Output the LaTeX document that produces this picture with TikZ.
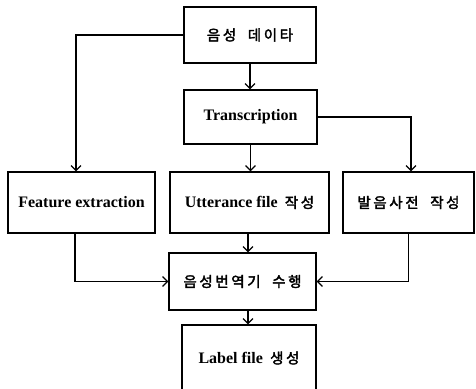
\documentclass[tikz,border=0pt]{standalone}
\usepackage{fontspec}
\setmainfont{Liberation Serif}
\newfontfamily\kr[LetterSpace=18,FakeBold=2.5]{Noto Sans CJK KR}
\usetikzlibrary{arrows.meta}
\newcommand{\ksp}{\hspace{0.8em}}
\newcommand{\lsp}{\hspace{0.45em}}
\newcommand{\kt}[1]{{\kr\mdseries\fontsize{14.5}{17}\selectfont #1}}
\tikzset{
  box/.style={draw, line width=1.2pt, inner sep=0pt, anchor=center},
  lat/.style={font=\fontsize{16}{19}\selectfont\bfseries},
  arr/.style={line width=1.2pt, -{Straight Barb[length=5pt,width=10pt,line width=1.2pt]}},
}
\begin{document}
\begin{tikzpicture}[x=1pt,y=-1pt]
\useasboundingbox (0,0) rectangle (476,388);
\node[box, minimum width=132pt, minimum height=56pt] (A) at (250,35) {\kt{음성\ksp 데이타}};
\node[box, lat, minimum width=133pt, minimum height=54pt] (T) at (250.5,117) {Transcription};
\node[box, lat, minimum width=147pt, minimum height=61pt] (F) at (81.5,202.5) {Feature extraction};
\node[box, lat, minimum width=159pt, minimum height=61pt] (U) at (249.5,202.5) {Utterance file\lsp\kt{작성}};
\node[box, minimum width=131pt, minimum height=61pt] (P) at (408.5,202.5) {\kt{발음사전\ksp 작성}};
\node[box, minimum width=147pt, minimum height=57pt] (S) at (242.5,281.5) {\kt{음성번역기\ksp 수행}};
\node[box, lat, minimum width=134pt, minimum height=66pt] (L) at (249,358) {Label file\lsp\kt{생성}};
\draw[arr] (A.west) -| ([xshift=-5.5pt]F.north);
\draw[arr] (A.south) -- (A.south |- T.north);
\draw[arr] (T.south) -- (T.south |- U.north);
\draw[arr] (T.east) -| ([xshift=2.5pt]P.north);
\draw[arr] ([xshift=-6.5pt]F.south) |- (S.west);
\draw[arr] ([xshift=-1.5pt]U.south) -- ([xshift=-1.5pt]U.south |- S.north);
\draw[arr] (P.south) |- (S.east);
\draw[arr] ([xshift=5.5pt]S.south) -- ([xshift=5.5pt]S.south |- L.north);
\end{tikzpicture}
\end{document}
